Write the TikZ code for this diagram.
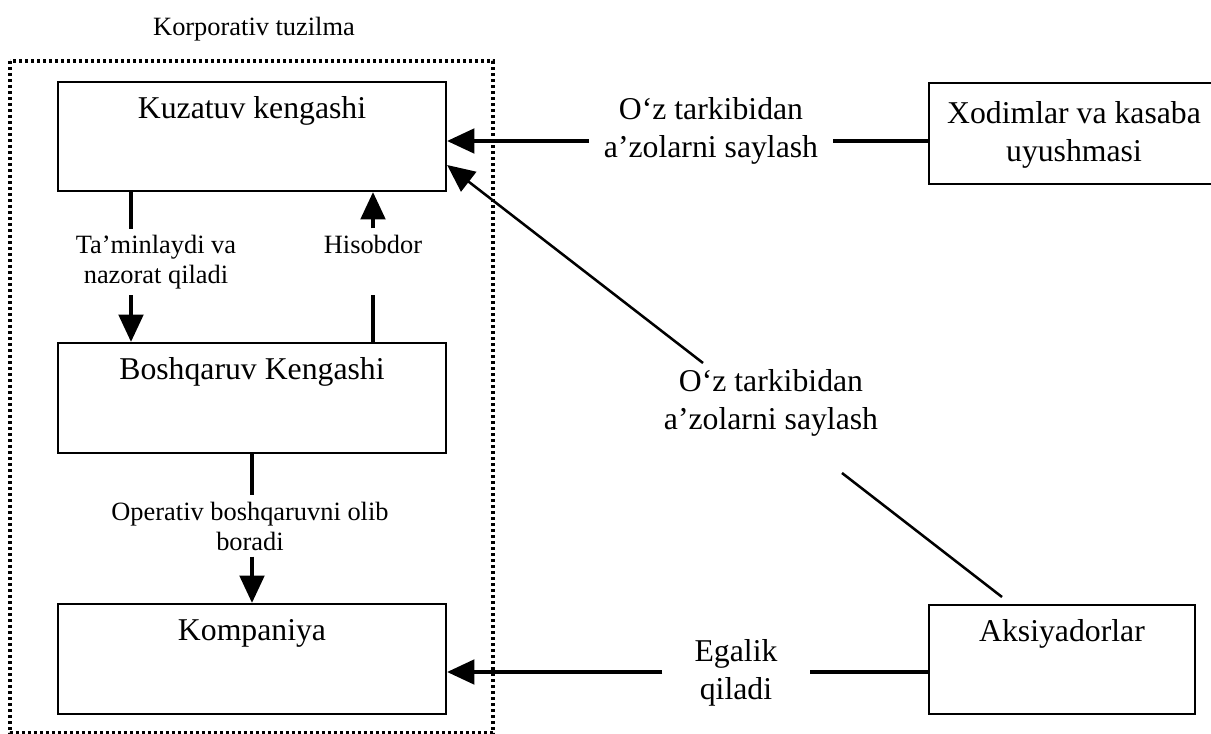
\documentclass[tikz,border=0pt]{standalone}
\usepackage{fontspec}
\setmainfont{Liberation Serif}
\usetikzlibrary{arrows.meta}
\newcommand{\boxfont}{\fontsize{23.8pt}{28.5pt}\selectfont}
\newcommand{\lblfont}{\fontsize{19.8pt}{22.5pt}\selectfont}
\tikzset{
  box/.style={draw, line width=1.7pt, inner sep=0pt},
  boxtext/.style={anchor=base, yshift=-28.5pt, font=\boxfont},
  bigtext/.style={font=\boxfont, align=center, inner sep=0pt},
  smalltext/.style={font=\lblfont, align=center, inner xsep=0pt, inner ysep=4.5pt},
  conn/.style={line width=2.4pt},
  arr/.style={conn, -{Triangle[length=20.5pt,width=18.5pt]}},
  frame/.style={line width=2.6pt, dash pattern=on 2.3pt off 2.2pt}
}
\begin{document}
\begin{tikzpicture}[x=0.75pt, y=-0.75pt]
\useasboundingbox (0,0) rectangle (1211,734);
\clip (0,0) rectangle (1211,734);

% korporativ tuzilma
\draw[frame] (10,61) rectangle (493,733);
\node[font=\lblfont, anchor=base] (corp) at (254,36) {Korporativ tuzilma};

% boxes
\node[box, minimum width=291pt, minimum height=81.75pt,
  label={[boxtext]north:Kuzatuv kengashi}] (kuz) at (252,136.5) {};
\node[box, minimum width=291pt, minimum height=82.5pt,
  label={[boxtext]north:Boshqaruv Kengashi}] (bosh) at (252,398) {};
\node[box, minimum width=291pt, minimum height=82.5pt,
  label={[boxtext]north:Kompaniya}] (komp) at (252,659) {};
\node[box, minimum width=199.5pt, minimum height=81.75pt,
  label={[boxtext]north:Aksiyadorlar}] (aksi) at (1062,659.5) {};
\node[box, minimum width=217.5pt, minimum height=75.75pt,
  label={[font=\boxfont, align=center, anchor=north, inner sep=0pt, yshift=-14.5pt]north:{Xodimlar va kasaba\\uyushmasi}}] (xodim) at (1074,133.5) {};

% labels
\node[bigtext, inner xsep=11pt] (tarkib1) at (711,131) {O‘z tarkibidan\\a’zolarni saylash};
\node[bigtext] (tarkib2) at (771,403) {O‘z tarkibidan\\a’zolarni saylash};
\node[bigtext, inner xsep=24pt] (egalik) at (736,673) {Egalik\\qiladi};
\node[smalltext] (tamin) at (156,262) {Ta’minlaydi va\\nazorat qiladi};
\node[smalltext] (hisob) at (373,244) {Hisobdor};
\node[smalltext] (oper) at (250,526) {Operativ boshqaruvni olib\\boradi};

\coordinate (tx) at (131,0);
\coordinate (ya) at (0,141);
\coordinate (ye) at (0,672);
\coordinate (dg1) at (703,363);
\coordinate (dg2) at (842,473);
\coordinate (dgend) at (1002,597);

% inside the structure
\draw[conn] (kuz.south -| tx) -- (tx |- tamin.north);
\draw[arr] (tx |- tamin.south) -- (bosh.north -| tx);
\draw[conn] (bosh.north -| hisob) -- (hisob |- tamin.south);
\draw[arr] (hisob.north) -- (hisob |- kuz.south);
\draw[conn] (bosh.south) -- (bosh.south |- oper.north);
\draw[arr] (bosh.south |- oper.south) -- (komp.north);

% from outside
\draw[conn] (xodim.west |- ya) -- (tarkib1.east |- ya);
\draw[arr] (tarkib1.west |- ya) -- (kuz.east |- ya);
\draw[conn] (aksi.west |- ye) -- (egalik.east |- ye);
\draw[arr] (egalik.west |- ye) -- (komp.east |- ye);
\draw[conn, line width=1.9pt] (dgend) -- (dg2);
\draw[arr, line width=1.9pt] (dg1) -- ([yshift=-21.4pt]kuz.east);

\end{tikzpicture}
\end{document}
